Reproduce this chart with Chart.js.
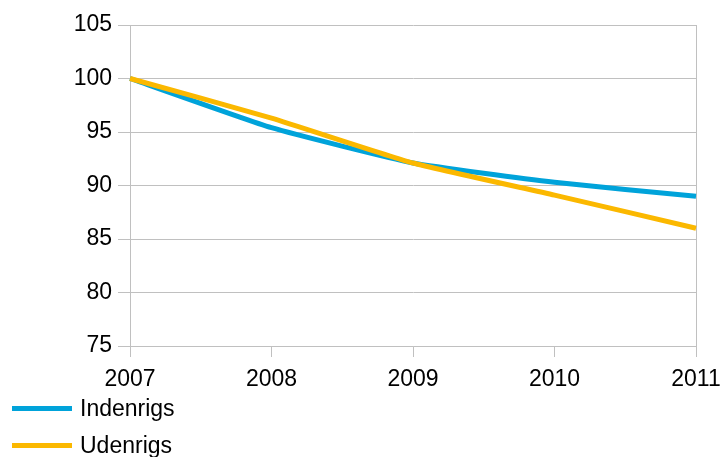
<!DOCTYPE html>
<html>
<head>
<meta charset="utf-8">
<script src="https://cdn.jsdelivr.net/npm/chart.js@4"></script>
<style>
    html, body { margin: 0; padding: 0; background: #fff; }
    #wrap { position: relative; width: 724px; height: 457px; }
    #legend { position: absolute; left: 12px; top: 390px; font-family: "Liberation Sans", Arial, sans-serif; font-size: 23px; color: #000; }
    .item { display: flex; align-items: center; height: 37px; }
    .swatch { width: 60px; height: 5px; margin-right: 8px; }
</style>
</head>
<body>
<div id="wrap">
    <canvas id="chart" width="724" height="457"></canvas>
    <div id="legend"></div>
</div>
<script>
const years = ['2007', '2008', '2009', '2010', '2011'];
const indenrigs = [100, 95.4, 92.1, 90.3, 89.0];
const udenrigs = [100, 96.3, 92.1, 89.1, 86.0];
const yTicks = [75, 80, 85, 90, 95, 100, 105];

const blue = '#00a3da';
const orange = '#fbb800';
const gridGray = '#c0c0c0';
const font = { family: '"Liberation Sans", Arial, sans-serif', size: 23 };

const series = [
    { label: 'Indenrigs', data: indenrigs, color: blue, order: 1 },
    { label: 'Udenrigs', data: udenrigs, color: orange, order: 0 },
];

new Chart(document.getElementById('chart'), {
    type: 'line',
    data: {
        labels: years,
        datasets: series.map((s) => ({
            label: s.label,
            data: s.data,
            borderColor: s.color,
            backgroundColor: s.color,
            borderWidth: 5,
            pointRadius: 0,
            tension: 0.15,
            order: s.order,
        })),
    },
    options: {
        responsive: false,
        animation: false,
        layout: { padding: { left: 0, right: 28, top: 25, bottom: 0 } },
        plugins: {
            legend: { display: false },
            tooltip: { enabled: false },
        },
        scales: {
            x: {
                offset: false,
                grid: {
                    color: (ctx) => (ctx.index === years.length - 1 ? gridGray : 'rgba(0,0,0,0)'),
                    tickColor: gridGray,
                    tickLength: 11,
                    lineWidth: 1,
                },
                border: { color: gridGray },
                ticks: { color: '#000', font, padding: 9, maxRotation: 0, autoSkip: false },
                afterFit: (scale) => {
                    scale.height = 111;
                    // let the last label run past the edge, as in the original
                    scale.paddingRight = 0;
                },
            },
            y: {
                min: 75,
                max: 105,
                afterBuildTicks: (scale) => { scale.ticks = yTicks.map((v) => ({ value: v })); },
                grid: { color: gridGray, tickColor: gridGray, tickLength: 12 },
                border: { color: gridGray },
                ticks: { color: '#000', font, padding: 6 },
                afterFit: (scale) => { scale.width = 130; },
            },
        },
    },
});

const legendEl = document.getElementById('legend');
series.forEach((s) => {
    const item = document.createElement('div');
    item.className = 'item';
    item.innerHTML = `<span class="swatch" style="background:${s.color}"></span><span>${s.label}</span>`;
    legendEl.appendChild(item);
});
</script>
</body>
</html>
